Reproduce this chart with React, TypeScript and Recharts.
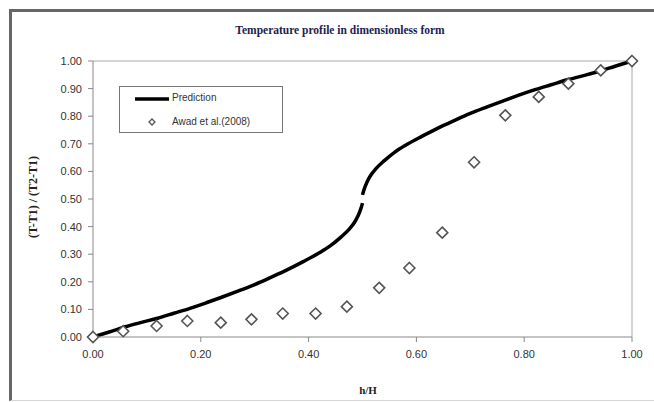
import React from 'react';
import { ComposedChart, Line, Scatter, XAxis, YAxis, ReferenceLine } from 'recharts';

const xTicks = [0, 0.2, 0.4, 0.6, 0.8, 1.0];
const yTicks = [0, 0.1, 0.2, 0.3, 0.4, 0.5, 0.6, 0.7, 0.8, 0.9, 1.0];

const predLowerX = [0, 0.03, 0.06, 0.09, 0.12, 0.15, 0.18, 0.21, 0.24, 0.27, 0.30, 0.33, 0.36, 0.39, 0.42, 0.44, 0.46, 0.475, 0.485, 0.492, 0.497, 0.5];
const predLowerY = [0, 0.018, 0.037, 0.053, 0.068, 0.086, 0.104, 0.124, 0.145, 0.167, 0.19, 0.216, 0.243, 0.273, 0.305, 0.33, 0.362, 0.39, 0.415, 0.44, 0.465, 0.485];
const predUpperX = [0.5, 0.503, 0.508, 0.515, 0.525, 0.54, 0.56, 0.58, 0.61, 0.64, 0.67, 0.70, 0.73, 0.76, 0.79, 0.82, 0.85, 0.88, 0.91, 0.94, 0.97, 1.0];
const predUpperY = [0.515, 0.535, 0.56, 0.585, 0.61, 0.638, 0.67, 0.695, 0.727, 0.757, 0.784, 0.81, 0.833, 0.855, 0.876, 0.896, 0.914, 0.932, 0.947, 0.963, 0.982, 1.0];

const awadX = [0, 0.056, 0.118, 0.175, 0.237, 0.294, 0.352, 0.413, 0.471, 0.531, 0.587, 0.648, 0.707, 0.765, 0.827, 0.882, 0.942, 1.0];
const awadY = [0, 0.021, 0.040, 0.058, 0.052, 0.064, 0.085, 0.085, 0.110, 0.178, 0.25, 0.378, 0.633, 0.803, 0.870, 0.918, 0.966, 1.0];

const predLower = predLowerX.map((x, i) => ({ x, y: predLowerY[i] }));
const predUpper = predUpperX.map((x, i) => ({ x, y: predUpperY[i] }));
const awad = awadX.map((x, i) => ({ x, y: awadY[i] }));

const Diamond = (props: any) => {
  const { cx, cy } = props;
  const r = 5.5;
  return (
    <polygon
      points={`${cx},${cy - r} ${cx + r},${cy} ${cx},${cy + r} ${cx - r},${cy}`}
      fill="#fff"
      stroke="#555"
      strokeWidth={1.6}
    />
  );
};

const LegendBox = () => (
  <div
    style={{
      position: 'absolute',
      left: 119,
      top: 86,
      border: '1px solid #777',
      width: 164,
      height: 47,
      boxSizing: 'border-box',
      background: '#fff',
      fontFamily: 'Liberation Sans, Arial, sans-serif',
      fontSize: 10,
      color: '#333',
    }}
  >
    <svg width={164} height={47} style={{ position: 'absolute', left: 0, top: 0 }}>
      <line x1={15} y1={12} x2={49} y2={12} stroke="#000" strokeWidth={3.5} />
      <polygon points="32,32 35,35 32,38 29,35" fill="#fff" stroke="#555" strokeWidth={1.3} />
    </svg>
    <div style={{ position: 'absolute', left: 52, top: 5 }}>Prediction</div>
    <div style={{ position: 'absolute', left: 52, top: 29 }}>Awad et al.(2008)</div>
  </div>
);

export default function App() {
  const tickStyle = { fill: '#333', fontSize: 11, fontFamily: 'Liberation Sans, Arial, sans-serif' };
  return (
    <div style={{ position: 'absolute', left: 0, top: 0, width: 654, height: 402, background: '#fff', overflow: 'hidden' }}>
      <div
        style={{
          position: 'absolute',
          left: 9,
          top: 9,
          width: 660,
          height: 392,
          borderLeft: '3px solid #666',
          borderTop: '3px solid #666',
          borderBottom: '1px solid #d8d8d8',
          boxSizing: 'border-box',
        }}
      />
      <div
        style={{
          position: 'absolute',
          left: 190,
          width: 300,
          top: 24,
          textAlign: 'center',
          fontFamily: 'Liberation Serif, Times New Roman, serif',
          fontWeight: 'bold',
          fontSize: 11.5,
          color: '#1c2250',
        }}
      >
        Temperature profile in dimensionless form
      </div>
      <div
        style={{
          position: 'absolute',
          left: 318,
          width: 100,
          top: 384,
          textAlign: 'center',
          fontFamily: 'Liberation Serif, Times New Roman, serif',
          fontWeight: 'bold',
          fontSize: 11,
          color: '#222',
        }}
      >
        h/H
      </div>
      <div
        style={{
          position: 'absolute',
          left: 33,
          top: 197,
          transform: 'translate(-50%, -50%) rotate(-90deg)',
          whiteSpace: 'nowrap',
          fontFamily: 'Liberation Serif, Times New Roman, serif',
          fontWeight: 'bold',
          fontSize: 12,
          color: '#222',
        }}
      >
        (T-T1) / (T2-T1)
      </div>
      <div style={{ position: 'absolute', left: 0, top: 0 }}>
        <ComposedChart width={654} height={402} margin={{ top: 61, right: 22, left: 0, bottom: 0 }}>
          <XAxis
            type="number"
            dataKey="x"
            domain={[0, 1]}
            ticks={xTicks}
            tickFormatter={(v: number) => v.toFixed(2)}
            height={65}
            stroke="#888"
            tick={tickStyle}
            tickSize={5}
            tickMargin={8}
          />
          <YAxis
            type="number"
            dataKey="y"
            domain={[0, 1]}
            ticks={yTicks}
            tickFormatter={(v: number) => v.toFixed(2)}
            width={93}
            stroke="#888"
            tick={tickStyle}
            tickSize={5}
            tickMargin={6}
          />
          <ReferenceLine y={1} stroke="#aaa" strokeWidth={1} />
          <ReferenceLine x={1} stroke="#aaa" strokeWidth={1} />
          <Line
            data={predLower}
            dataKey="y"
            type="monotone"
            stroke="#000"
            strokeWidth={3.5}
            dot={false}
            isAnimationActive={false}
            name="Prediction"
          />
          <Line
            data={predUpper}
            dataKey="y"
            type="monotone"
            stroke="#000"
            strokeWidth={3.5}
            dot={false}
            isAnimationActive={false}
          />
          <Scatter
            data={awad}
            dataKey="y"
            shape={<Diamond />}
            isAnimationActive={false}
            name="Awad et al.(2008)"
          />
        </ComposedChart>
      </div>
      <LegendBox />
    </div>
  );
}
